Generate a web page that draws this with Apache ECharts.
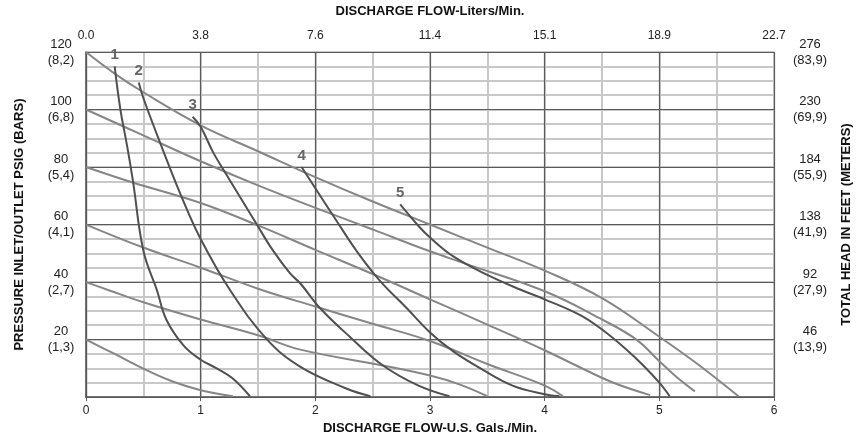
<!DOCTYPE html>
<html>
<head>
<meta charset="utf-8">
<script src="https://cdn.jsdelivr.net/npm/echarts@6/dist/echarts.min.js"></script>
<style>
  html, body { margin: 0; padding: 0; background: #fff; }
  #chart { width: 861px; height: 440px; }
</style>
</head>
<body>
<div id="chart"></div>
<script>
// tick labels
var gpmTicks = [0, 1, 2, 3, 4, 5, 6];
var litersTicks = ['0.0', '3.8', '7.6', '11.4', '15.1', '18.9', '22.7'];
var psiTicks = [0, 20, 40, 60, 80, 100, 120];
var barTicks = ['', '1,3', '2,7', '4,1', '5,4', '6,8', '8,2'];
var feetTicks = ['', '46', '92', '138', '184', '230', '276'];
var meterTicks = ['', '13,9', '27,9', '41,9', '55,9', '69,9', '83,9'];

// inlet pressure lines (psi at zero flow)
var press120 = [[0,120],[0.25,112.5],[0.5,106],[1,94.5],[1.5,85.5],[2,76.5],[2.5,68],[3,60],[3.5,52],[4,44],[4.5,34.4],[5,21],[5.35,11],[5.69,0.3]];
var press100 = [[0,100],[0.5,91],[1,82],[1.5,73.6],[2,65.8],[2.5,58.3],[2.91,52],[3.3,46.5],[4,36.8],[4.5,27],[4.8,20],[5,12.5],[5.15,7],[5.31,2]];
var press80 = [[0,80],[0.4,74.7],[1,67.5],[1.5,59.7],[2,51.2],[2.5,42.8],[3,34],[3.5,25.2],[4,16.3],[4.31,10.3],[4.6,5],[4.92,0.7]];
var press60 = [[0,60],[0.5,52],[1,45],[1.5,37.7],[2,31.5],[2.5,25.5],[3,19.5],[3.5,11.5],[4,4],[4.16,0.3]];
var press40 = [[0,40],[0.21,37],[0.5,33],[1,27],[1.5,21.5],[1.87,16.5],[2.59,11],[3,7.5],[3.25,4.5],[3.5,0.3]];
var press20 = [[0,20],[0.25,15],[0.5,9.9],[0.75,5.5],[1,2.4],[1.28,0.3]];

// numbered performance curves
var curve1 = [[0.25,115],[0.3,100],[0.36,87],[0.41,75],[0.5,51],[0.62,37],[0.7,27],[0.85,18],[1,13],[1.14,10],[1.28,6.5],[1.43,0.3]];
var curve2 = [[0.46,109.4],[0.5,104],[0.67,86],[0.83,70],[1,55],[1.26,37],[1.58,20],[1.87,10.5],[2.27,3],[2.48,0.3]];
var curve3 = [[0.93,97.5],[1,94],[1.11,85],[1.2,79],[1.49,60],[1.63,51],[1.78,43],[1.87,39.5],[2.04,31],[2.3,21],[2.59,11],[2.9,4],[3.17,0.3]];
var curve4 = [[1.88,80],[2.19,61],[2.36,50.8],[2.56,40.6],[2.8,30.8],[3,22.5],[3.2,16],[3.44,10],[3.72,4],[4,1],[4.13,0.3]];
var curve5 = [[2.74,67],[2.9,59.5],[3,55.5],[3.2,49],[3.5,42.5],[3.78,37.5],[4,34],[4.31,28.5],[4.5,23.5],[4.7,17],[4.86,11],[5,5],[5.09,0.3]];

var pressLines = [press120, press100, press80, press60, press40, press20];
var curves = [curve1, curve2, curve3, curve4, curve5];

var font = 'Liberation Sans, Arial, sans-serif';
var majorColor = '#5a5a5a';
var minorColor = '#c8c8c8';

var myChart = echarts.init(document.getElementById('chart'));

var series = [];
pressLines.forEach(function (d) {
    series.push({
        type: 'line',
        data: d,
        smooth: 0.4,
        symbol: 'none',
        lineStyle: { color: '#868686', width: 2 },
        z: 3
    });
});
curves.forEach(function (d, i) {
    var pts = d.map(function (p, j) {
        if (j === 0) {
            // curve number sits just above where the curve starts
            return {
                value: p,
                label: {
                    show: true, position: 'top', distance: 4,
                    formatter: String(i + 1),
                    fontFamily: font, fontWeight: 'bold', fontSize: 15, color: '#666'
                }
            };
        }
        return p;
    });
    series.push({
        type: 'line',
        data: pts,
        smooth: 0.4,
        symbol: 'circle',
        symbolSize: 0.1,
        showAllSymbol: true,
        itemStyle: { color: 'rgba(0,0,0,0)' },
        lineStyle: { color: '#505050', width: 2 },
        z: 4
    });
});

var option = {
    animation: false,
    backgroundColor: '#fff',
    grid: { left: 86, right: 87, top: 47, bottom: 41 },
    xAxis: [
        {
            type: 'value', position: 'bottom', min: 0, max: 6, interval: 1,
            name: 'DISCHARGE FLOW-U.S. Gals./Min.', nameLocation: 'middle', nameGap: 24,
            nameTextStyle: { fontFamily: font, fontWeight: 'bold', fontSize: 13, color: '#111' },
            axisLine: { show: true, lineStyle: { color: majorColor, width: 1.5 } },
            axisTick: { show: true, length: 4, lineStyle: { color: majorColor } },
            axisLabel: {
                margin: 8, fontFamily: font, fontSize: 12, color: '#222',
                formatter: function (v) { return gpmTicks.indexOf(v) >= 0 ? String(v) : ''; }
            },
            splitLine: { show: true, lineStyle: { color: majorColor, width: 1.2 } },
            z: 2
        },
        {
            type: 'value', position: 'top', min: 0, max: 6, interval: 1,
            name: 'DISCHARGE FLOW-Liters/Min.', nameLocation: 'middle', nameGap: 34,
            nameTextStyle: { fontFamily: font, fontWeight: 'bold', fontSize: 13, color: '#111' },
            axisLine: { show: true, lineStyle: { color: majorColor, width: 1.2 } },
            axisTick: { show: false },
            axisLabel: {
                margin: 10, fontFamily: font, fontSize: 12, color: '#222',
                formatter: function (v) { return litersTicks[Math.round(v)]; }
            },
            splitLine: { show: false }
        },
        {
            type: 'value', position: 'bottom', min: 0, max: 6, interval: 0.5,
            axisLine: { show: false }, axisTick: { show: false }, axisLabel: { show: false },
            splitLine: { show: true, lineStyle: { color: minorColor, width: 2 } },
            z: 1
        }
    ],
    yAxis: [
        {
            type: 'value', position: 'left', min: 0, max: 120, interval: 20,
            name: 'PRESSURE INLET/OUTLET PSIG (BARS)', nameLocation: 'middle', nameGap: 60,
            nameTextStyle: { fontFamily: font, fontWeight: 'bold', fontSize: 13, color: '#111' },
            axisLine: { show: true, lineStyle: { color: majorColor, width: 1.5 } },
            axisTick: { show: false },
            axisLabel: {
                margin: 25, align: 'center', fontFamily: font, fontSize: 13, color: '#222', lineHeight: 16,
                formatter: function (v) {
                    var i = psiTicks.indexOf(v);
                    return i > 0 ? v + '\n(' + barTicks[i] + ')' : '';
                }
            },
            splitLine: { show: true, lineStyle: { color: majorColor, width: 1.2 } },
            z: 2
        },
        {
            type: 'value', position: 'right', min: 0, max: 120, interval: 20,
            name: 'TOTAL HEAD IN FEET (METERS)', nameLocation: 'middle', nameGap: 66,
            nameRotate: 90,
            nameTextStyle: { fontFamily: font, fontWeight: 'bold', fontSize: 13, color: '#111' },
            axisLine: { show: true, lineStyle: { color: majorColor, width: 1.2 } },
            axisTick: { show: false },
            axisLabel: {
                margin: 36, align: 'center', fontFamily: font, fontSize: 13, color: '#222', lineHeight: 16,
                formatter: function (v) {
                    var i = psiTicks.indexOf(v);
                    return i > 0 ? feetTicks[i] + '\n(' + meterTicks[i] + ')' : '';
                }
            },
            splitLine: { show: false }
        },
        {
            type: 'value', position: 'left', min: 0, max: 120, interval: 5,
            axisLine: { show: false }, axisTick: { show: false }, axisLabel: { show: false },
            splitLine: { show: true, lineStyle: { color: minorColor, width: 2 } },
            z: 1
        }
    ],
    series: series
};

myChart.setOption(option);
</script>
</body>
</html>
